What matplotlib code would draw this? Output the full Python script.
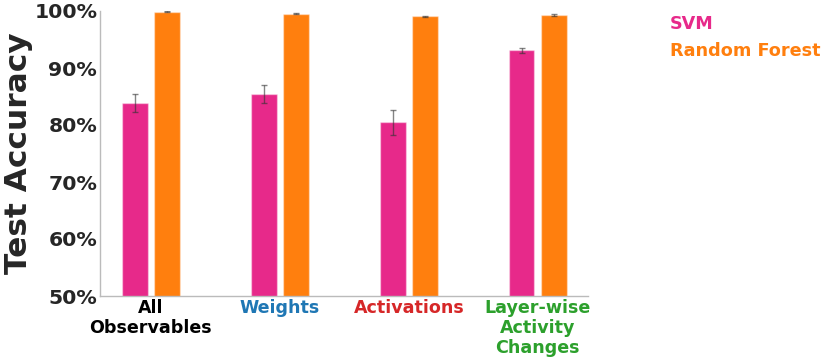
import matplotlib.pyplot as plt
import numpy as np
from matplotlib.ticker import PercentFormatter

categories = ['All\nObservables', 'Weights', 'Activations', 'Layer-wise\nActivity\nChanges']
label_colors = ['black', '#1f77b4', '#d62728', '#2ca02c']
svm_acc = [83.8, 85.5, 80.5, 93.1]
svm_err = [1.6, 1.6, 2.2, 0.4]
rf_acc = [99.9, 99.5, 99.1, 99.3]
rf_err = [0.1, 0.1, 0.1, 0.1]

svm_color = '#e7298a'
rf_color = '#ff7f0e'

fig = plt.figure(figsize=(8.3, 3.58), dpi=100)
ax = fig.add_axes([100 / 830, 62 / 358, 488 / 830, 285 / 358])

x = np.arange(len(categories))
w = 0.2
err_kw = dict(ecolor='#333333', alpha=0.6, capsize=2, elinewidth=1, capthick=1)
ax.bar(x - 0.125, svm_acc, w, yerr=svm_err, color=svm_color, edgecolor=(1, 1, 1, 0.4),
       linewidth=1, error_kw=err_kw, label='SVM')
ax.bar(x + 0.125, rf_acc, w, yerr=rf_err, color=rf_color, edgecolor=(1, 1, 1, 0.4),
       linewidth=1, error_kw=err_kw, label='Random Forest')

ax.set_ylim(50, 100)
ax.set_xlim(-0.395, 3.39)
ax.yaxis.set_major_formatter(PercentFormatter(decimals=0))
ax.set_xticks(x)
ax.set_xticklabels(categories, fontsize=12.6, fontweight='bold', linespacing=1.15)
for lbl, c in zip(ax.get_xticklabels(), label_colors):
    lbl.set_color(c)
for lbl in ax.get_yticklabels():
    lbl.set_fontsize(14.7)
    lbl.set_fontweight('bold')
    lbl.set_color('#262626')
ax.tick_params(length=0, pad=2)
ax.set_ylabel('Test Accuracy', fontsize=22.5, fontweight='bold', color='#262626', labelpad=1)

for s in ['top', 'right']:
    ax.spines[s].set_visible(False)
for s in ['left', 'bottom']:
    ax.spines[s].set_color('#bbbbbb')
    ax.spines[s].set_linewidth(1)

leg = fig.legend(loc='upper left', bbox_to_anchor=(654 / 830, 1 + 1 / 358), frameon=False,
                 handlelength=0, handletextpad=0,
                 prop={'weight': 'bold', 'size': 12.7}, labelspacing=0.5)
for h in leg.legend_handles:
    h.set_visible(False)
for t, c in zip(leg.get_texts(), [svm_color, rf_color]):
    t.set_color(c)

fig.savefig('out.png', dpi=100)
